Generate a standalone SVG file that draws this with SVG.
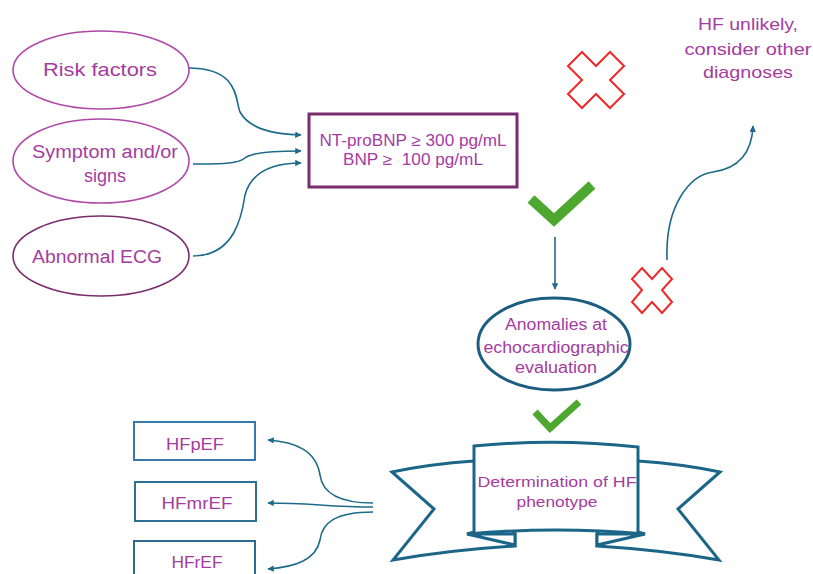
<svg xmlns="http://www.w3.org/2000/svg" width="813" height="574" viewBox="0 0 813 574">
<defs>
<marker id="ah" viewBox="0 0 10 10" refX="9" refY="5" markerWidth="4" markerHeight="4" orient="auto" markerUnits="strokeWidth">
<path d="M0,0 L10,5 L0,10 Z" fill="#1E6A8A"/>
</marker>
<style>
text{font-family:"Liberation Sans",Arial,sans-serif;fill:#A43CA0;text-anchor:middle}
.pre{white-space:pre}
.ell{fill:#fff;stroke:#B048A8;stroke-width:1.6}
.con{fill:none;stroke:#1E6A8A;stroke-width:1.6;marker-end:url(#ah)}
.x{fill:#fff;stroke:#F02828;stroke-width:2;stroke-linejoin:miter}
.chk{fill:none;stroke:#4EA72E;stroke-linecap:butt;stroke-linejoin:miter}
.hf{fill:#fff;stroke-width:2}
.ban{fill:#fff;stroke:#1B6688;stroke-width:3;stroke-linejoin:miter}
</style>
</defs>
<rect width="813" height="574" fill="#fff"/>

<g id="connectors">
<path class="con" d="M188,68 C240,68 235,100 240,112 C250,130 275,134 301,135"/>
<path class="con" d="M193,164 C220,164 238,164 245,158 C252,152 275,151 301,151"/>
<path class="con" d="M193,256 C235,256 242,215 245,195 C252,170 275,163 301,163"/>
<path class="con" d="M555,237 L555,289"/>
<path class="con" d="M667,260 C665,205 690,175 713,172 C742,168 752,150 753,126"/>
<path class="con" d="M373,503 C335,503 322,490 320,475 C316,450 295,442 268,440"/>
<path class="con" d="M373,507 C330,507 310,503 268,503"/>
<path class="con" d="M373,512 C335,512 322,523 320,540 C316,560 295,567 268,569"/>
</g>

<g id="risk-factors">
<ellipse class="ell" cx="101" cy="70" rx="88" ry="39"/>
<text x="100" y="76" font-size="19" textLength="114" lengthAdjust="spacingAndGlyphs">Risk factors</text>
</g>
<g id="symptoms">
<ellipse class="ell" cx="101" cy="161" rx="88" ry="42"/>
<text x="105" y="158" font-size="18" textLength="146" lengthAdjust="spacingAndGlyphs">Symptom and/or</text>
<text x="105" y="182" font-size="18">signs</text>
</g>
<g id="abnormal-ecg">
<ellipse class="ell" cx="101" cy="256" rx="88" ry="40" style="stroke:#7B2C6F"/>
<text x="97" y="263" font-size="18" textLength="130" lengthAdjust="spacingAndGlyphs">Abnormal ECG</text>
</g>

<g id="bnp-box">
<rect x="309" y="114" width="208" height="73" fill="#fff" stroke="#7B2C6F" stroke-width="3"/>
<text x="413" y="146" font-size="16" textLength="187" lengthAdjust="spacingAndGlyphs">NT-proBNP ≥ 300 pg/mL</text>
<text class="pre" x="413" y="165" font-size="16" textLength="140" lengthAdjust="spacingAndGlyphs">BNP ≥  100 pg/mL</text>
</g>

<g id="hf-unlikely">
<text x="748" y="30" font-size="17" textLength="100" lengthAdjust="spacingAndGlyphs">HF unlikely,</text>
<text x="748" y="55" font-size="17" textLength="127" lengthAdjust="spacingAndGlyphs">consider other</text>
<text x="748" y="78" font-size="17" textLength="90" lengthAdjust="spacingAndGlyphs">diagnoses</text>
</g>

<g id="cross-1">
<path class="x" d="M582,52 L596,66 L610,52 L624,66 L610,80 L624,94 L610,108 L596,94 L582,108 L568,94 L582,80 L568,66 Z"/>
</g>
<g id="cross-2">
<path class="x" d="M642,268 L652,279 L662,268 L672,279 L662,290 L672,302 L662,313 L652,302 L642,313 L632,302 L642,290 L632,279 Z"/>
</g>

<g id="check-1">
<path class="chk" stroke-width="10" d="M531,199 L554,220 L592,185"/>
</g>
<g id="check-2">
<path class="chk" stroke-width="7" d="M535,412 L550,428 L579,402"/>
</g>

<g id="anomalies">
<ellipse cx="554" cy="344" rx="76" ry="46" fill="#fff" stroke="#1B5E80" stroke-width="3"/>
<text x="556" y="330" font-size="16" textLength="102" lengthAdjust="spacingAndGlyphs">Anomalies at</text>
<text x="556" y="353" font-size="16" textLength="145" lengthAdjust="spacingAndGlyphs">echocardiographic</text>
<text x="556" y="373" font-size="16" textLength="82" lengthAdjust="spacingAndGlyphs">evaluation</text>
</g>

<g id="phenotype-banner">
<path class="ban" d="M474,461 Q430,464 392,472 L434,509 L393,560 Q450,550 515,546 L515,534 Z"/>
<path class="ban" d="M638,461 Q682,464 720,472 L678,509 L719,560 Q662,550 597,546 L597,534 Z"/>
<path class="ban" d="M467,534 L515,545 L515,534 Z"/>
<path class="ban" d="M645,534 L597,545 L597,534 Z"/>
<path class="ban" d="M474,446 Q556,438 638,447 L638,532 L645,534 Q556,526 467,534 L474,532 Z"/>
<text x="557" y="487" font-size="15" textLength="159" lengthAdjust="spacingAndGlyphs">Determination of HF</text>
<text x="557" y="507" font-size="15" textLength="81" lengthAdjust="spacingAndGlyphs">phenotype</text>
</g>

<g id="hfpef">
<rect class="hf" x="134" y="422" width="121" height="38" stroke="#3A78B0"/>
<text x="195" y="450" font-size="17" textLength="58" lengthAdjust="spacingAndGlyphs">HFpEF</text>
</g>
<g id="hfmref">
<rect class="hf" x="135" y="482" width="121" height="39" stroke="#2E7090"/>
<text x="197" y="509" font-size="17" textLength="71" lengthAdjust="spacingAndGlyphs">HFmrEF</text>
</g>
<g id="hfref">
<rect class="hf" x="134" y="541" width="121" height="39" stroke="#2E6A90"/>
<text x="197" y="568" font-size="17" textLength="51" lengthAdjust="spacingAndGlyphs">HFrEF</text>
</g>
</svg>
